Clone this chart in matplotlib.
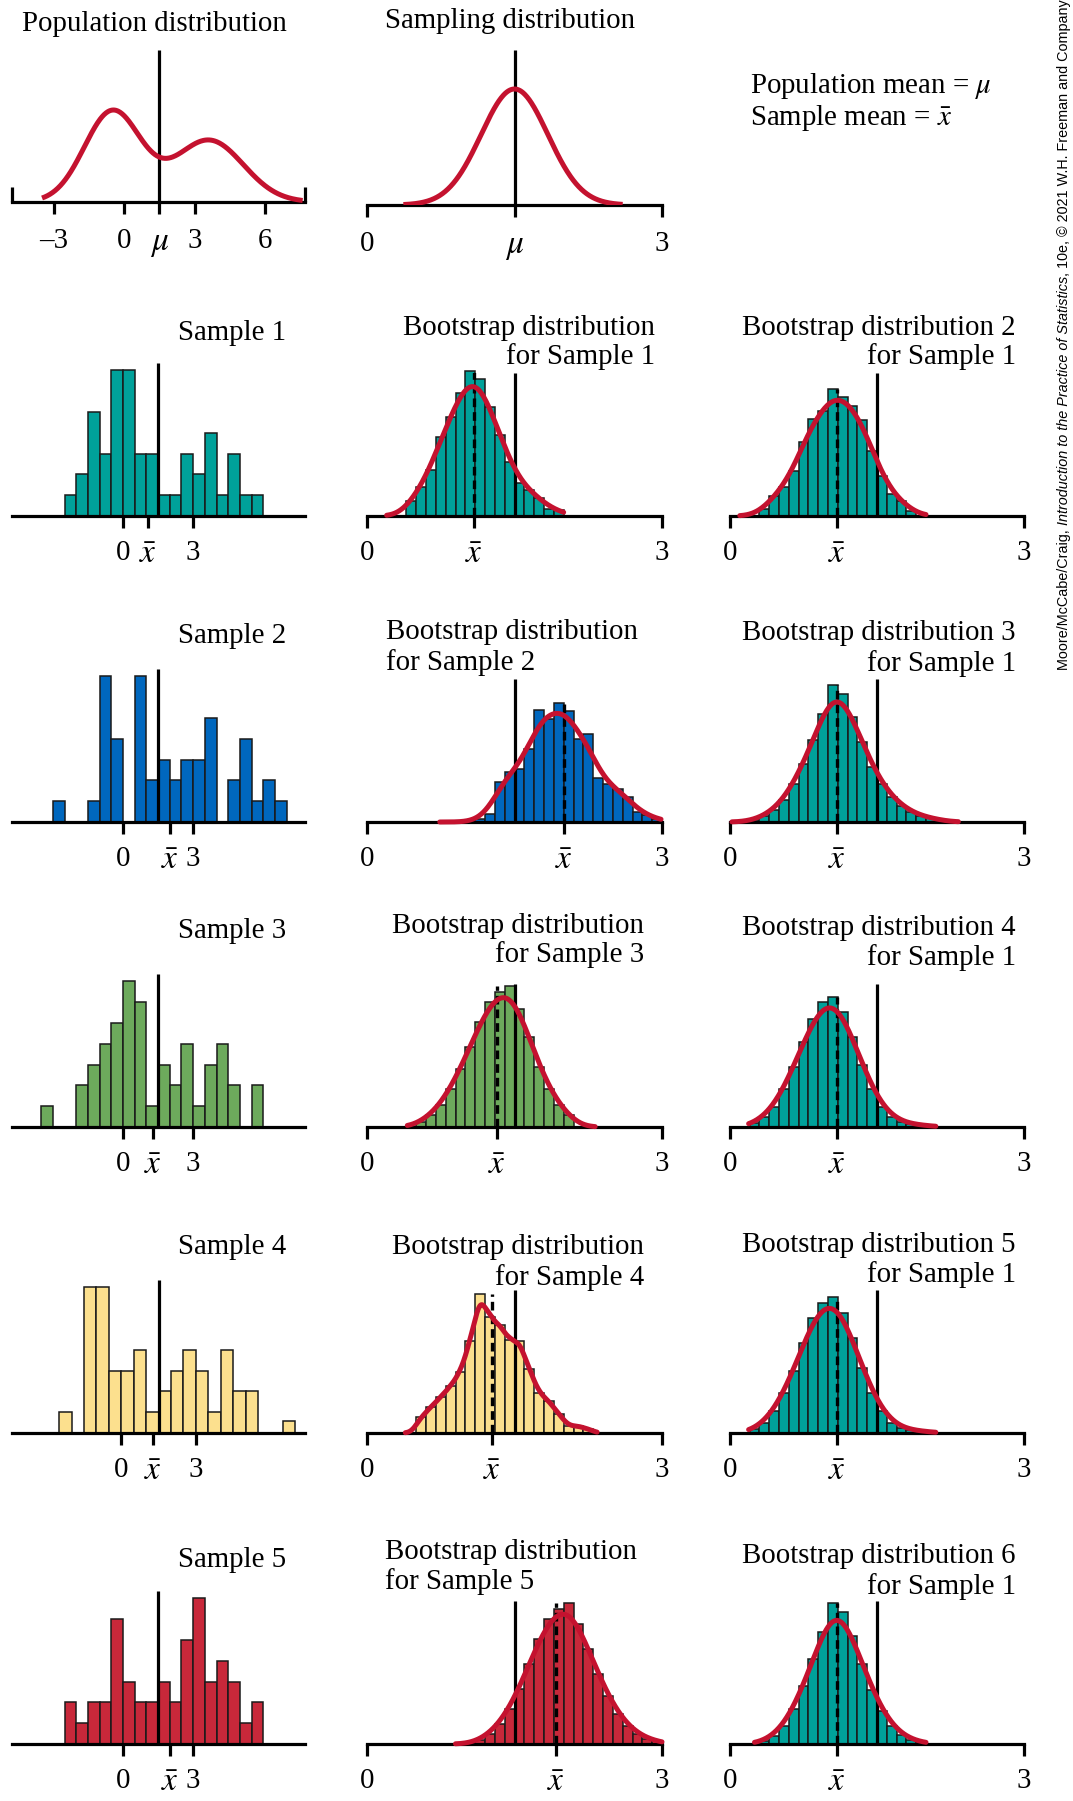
import numpy as np
import matplotlib.pyplot as plt

W, H, DPI = 1073, 1801, 100

# ---------------- data ----------------
mu = 1.5

# population density: two-component normal mixture
pop_means = [-0.5, 3.6]
pop_sds = [1.2, 1.47]
pop_weights = [0.545, 0.455]
pop_range = (-3.5, 7.6)
pop_xlim = (-4.78, 7.7)
pop_ticks = [-3, 0, 3, 6]

# sampling distribution of the mean
samp_sd = 0.34
samp_range = (0.37, 2.6)

# the five samples (bin width 0.5)
sample_bin = 0.5
sample_start = [-2.5, -3.0, -3.5, -2.5, -2.5]
sample_counts = [
    [1, 2, 5, 3, 7, 7, 3, 3, 1, 1, 3, 2, 4, 1, 3, 1, 1],
    [1, 0, 0, 1, 7, 4, 0, 7, 2, 3, 2, 3, 3, 5, 0, 2, 4, 1, 2, 1],
    [1, 0, 0, 2, 3, 4, 5, 7, 6, 1, 3, 2, 4, 1, 3, 4, 2, 0, 2],
    [1, 0, 7, 7, 3, 3, 4, 1, 2, 3, 4, 3, 1, 4, 2, 2, 0, 0, 0.6],
    [2, 1, 2, 2, 6, 3, 2, 2, 3, 2, 5, 7, 3, 4, 3, 1, 2],
]
sample_xbar = [1.07, 2.0, 1.29, 1.28, 2.0]
sample_xlim = [(-4.76, 7.79), (-4.76, 7.79), (-4.76, 7.79), (-4.40, 7.39), (-4.76, 7.79)]
sample_colors = ["#00A19A", "#0067BE", "#6DAA5C", "#FCE08E", "#C8283A"]

# bootstrap distributions (bin width 0.1)
boot_bin = 0.1
boot_mid_start = [0.4, 1.1, 0.5, 0.5, 1.1]
boot_mid_counts = [
    [15, 29, 46, 79, 99, 123, 145, 137, 109, 81, 54, 33, 26, 18, 7, 6],
    [3, 8, 40, 50, 53, 73, 112, 103, 119, 111, 83, 88, 44, 38, 33, 25, 10, 7, 3],
    [5, 12, 22, 38, 58, 80, 105, 125, 135, 141, 118, 90, 60, 38, 22, 12],
    [16, 26, 36, 47, 61, 92, 139, 116, 108, 93, 92, 64, 40, 32, 19, 7, 7, 4],
    [4, 10, 20, 35, 55, 80, 105, 125, 135, 141, 120, 95, 70, 48, 30, 18, 10, 5, 3],
]
boot_mid_xbar = [1.09, 2.0, 1.32, 1.27, 1.92]
boot_mid_curve = [(0.2, 2.0), (0.74, 2.99), (0.41, 2.32), (0.39, 2.34), (0.9, 3.0)]
boot_mid_bw = [0.12, 0.12, 0.12, 0.06, 0.12]

boot_right_start = [0.3, 0.2, 0.2, 0.2, 0.3]
boot_right_counts = [
    [7, 20, 29, 45, 74, 97, 105, 127, 119, 110, 96, 65, 40, 22, 15, 5],
    [2, 6, 12, 22, 38, 58, 82, 108, 137, 128, 105, 80, 55, 38, 25, 16, 10, 6, 4, 2],
    [4, 10, 20, 38, 60, 85, 108, 125, 130, 115, 90, 62, 38, 20, 10, 5, 3, 2, 1],
    [4, 10, 22, 40, 62, 90, 115, 130, 136, 120, 95, 65, 40, 22, 10, 5, 3, 2, 1],
    [3, 8, 18, 35, 58, 85, 112, 141, 132, 108, 80, 54, 33, 18, 9, 4, 2],
]
boot_right_xbar = [1.09, 1.09, 1.09, 1.09, 1.09]
boot_right_curve = [(0.1, 2.0), (0.02, 2.33), (0.19, 2.1), (0.19, 2.1), (0.25, 2.0)]
boot_right_bw = [0.12, 0.12, 0.12, 0.12, 0.12]
boot_right_color = "#00A19A"

curve_red = "#C4122F"
edge = "#1a1a1a"

# ---------------- layout (pixels) ----------------
col_x = [(12, 305), (367, 662), (730, 1024)]
row_base = [516, 822, 1127, 1433, 1744]
left_h, boot_h = 153, 143

plt.rcParams['font.family'] = ['Liberation Serif', 'DejaVu Serif']
plt.rcParams['mathtext.fontset'] = 'stix'
FS = 20.8

fig = plt.figure(figsize=(W / DPI, H / DPI), dpi=DPI)


def make_ax(col, base, h):
    x0, x1 = col_x[col]
    return fig.add_axes([x0 / W, 1 - base / H, (x1 - x0) / W, h / H])


def style(ax, xlim, ymax, pad=8.5):
    ax.set_xlim(xlim)
    ax.set_ylim(0, ymax)
    for s in ["top", "right", "left"]:
        ax.spines[s].set_visible(False)
    ax.spines["bottom"].set_linewidth(2.3)
    ax.spines["bottom"].set_zorder(3)
    ax.set_yticks([])
    ax.tick_params(axis="x", direction="out", length=8.5, width=2.3, pad=pad, labelsize=FS)
    ax.patch.set_alpha(0)


def set_labels(ax, ticks, labels):
    ax.set_xticks(ticks)
    ax.set_xticklabels(labels)
    # symbols ($\mu$, $\bar{x}$) a little larger than the digits
    for t in ax.get_xticklabels():
        if t.get_text().startswith("$"):
            t.set_fontsize(FS * 1.15)


def ftext(x, y, s, ha="left"):
    fig.text(x / W, 1 - y / H, s, ha=ha, va="center", fontsize=FS)


def smooth(start, counts, binw, bw, lo, hi):
    counts = np.asarray(counts, float)
    centers = start + binw * (np.arange(len(counts)) + 0.5)
    x = np.linspace(lo, hi, 400)
    k = np.exp(-0.5 * ((x[:, None] - centers[None, :]) / bw) ** 2) / (bw * np.sqrt(2 * np.pi))
    return x, (k * counts[None, :]).sum(axis=1) * binw


def hist(ax, start, counts, binw, color):
    edges = start + binw * np.arange(len(counts))
    ax.bar(edges, counts, width=binw, align="edge", color=color, edgecolor=edge,
           linewidth=1.1, zorder=2, clip_on=False)


def mu_line(ax):
    ax.axvline(mu, 0, 1, color="k", lw=2.3, zorder=3, solid_capstyle="butt", clip_on=False)


# ---- row 0: population ----
ax = make_ax(0, 202, 152)
xs = np.linspace(*pop_range, 400)
dens = sum(w * np.exp(-0.5 * ((xs - m) / s) ** 2) / (s * np.sqrt(2 * np.pi))
           for m, s, w in zip(pop_means, pop_sds, pop_weights))
style(ax, pop_xlim, dens.max() * 152 / 92, pad=10.5)
ax.plot(xs, dens, color=curve_red, lw=3.6, zorder=4, solid_capstyle="butt", clip_on=False)
mu_line(ax)
set_labels(ax, pop_ticks[:2] + [mu] + pop_ticks[2:], ["\u20133", "0", r"$\mu$", "3", "6"])
ax.set_xticks(list(pop_xlim), minor=True)
ax.tick_params(axis="x", which="minor", direction="in", length=10.5, width=2.3)
ftext(22, 24, "Population distribution")

# ---- row 0: sampling distribution ----
ax = make_ax(1, 205, 155)
xs = np.linspace(*samp_range, 400)
dens = np.exp(-0.5 * ((xs - mu) / samp_sd) ** 2) / (samp_sd * np.sqrt(2 * np.pi))
style(ax, (0, 3), dens.max() * 155 / 116, pad=10.5)
ax.plot(xs, dens, color=curve_red, lw=3.6, zorder=4, solid_capstyle="butt")
mu_line(ax)
set_labels(ax, [0, mu, 3], ["0", r"$\mu$", "3"])
ftext(385, 21, "Sampling distribution")

ftext(750, 86, r"Population mean = $\mu$")
ftext(750, 118, r"Sample mean = $\bar{x}$")

# ---- rows 1-5 ----
samp_title_y = [333, 636, 931, 1247, 1560]
mid_title_y = [(328, 357), (632, 663), (926, 955), (1247, 1278), (1552, 1582)]
mid_title_x = [(655, "right"), (386, "left"), (644, "right"), (644, "right"), (385, "left")]
right_title_y = [(328, 357), (633, 664), (928, 958), (1245, 1275), (1556, 1587)]

for i in range(5):
    base = row_base[i]
    # sample histogram
    ax = make_ax(0, base, left_h)
    style(ax, sample_xlim[i], 7.35)
    hist(ax, sample_start[i], sample_counts[i], sample_bin, sample_colors[i])
    mu_line(ax)
    set_labels(ax, [0, sample_xbar[i], 3], ["0", r"$\bar{x}$", "3"])
    ftext(286, samp_title_y[i], "Sample %d" % (i + 1), ha="right")

    # bootstrap of sample i
    for col, starts, counts, xbars, curves, bws, color in [
        (1, boot_mid_start, boot_mid_counts, boot_mid_xbar, boot_mid_curve, boot_mid_bw,
         sample_colors[i]),
        (2, boot_right_start, boot_right_counts, boot_right_xbar, boot_right_curve, boot_right_bw,
         boot_right_color),
    ]:
        ax = make_ax(col, base, boot_h)
        style(ax, (0, 3), 143)
        hist(ax, starts[i], counts[i], boot_bin, color)
        mu_line(ax)
        ax.vlines(xbars[i], 0, max(counts[i]), color="k", lw=2.4, zorder=3,
                  linestyles=(0, (2.6, 1.5)))
        cx, cy = smooth(starts[i], counts[i], boot_bin, bws[i], *curves[i])
        ax.plot(cx, cy, color=curve_red, lw=3.6, zorder=4, solid_capstyle="round", clip_on=False)
        set_labels(ax, [0, xbars[i], 3], ["0", r"$\bar{x}$", "3"])

    xm, ham = mid_title_x[i]
    ftext(xm, mid_title_y[i][0], "Bootstrap distribution", ha=ham)
    ftext(xm, mid_title_y[i][1], "for Sample %d" % (i + 1), ha=ham)
    ftext(1016, right_title_y[i][0], "Bootstrap distribution %d" % (i + 2), ha="right")
    ftext(1016, right_title_y[i][1], "for Sample 1", ha="right")

# ---- credit line, rotated, bottom to top ----
pieces = [("Moore/McCabe/Craig, ", "normal"),
          ("Introduction to the Practice of Statistics", "italic"),
          (", 10e, \u00a9 2021 W.H. Freeman and Company", "normal")]
fam = ["Liberation Sans Narrow", "Liberation Sans", "DejaVu Sans"]
renderer = fig.canvas.get_renderer()


def place_credit(fs):
    texts, y = [], 670
    for s, st in pieces:
        t = fig.text(1068 / W, 1 - y / H, s, rotation=90, rotation_mode="anchor",
                     ha="left", va="baseline", fontsize=fs, style=st, family=fam)
        y -= t.get_window_extent(renderer).height
        texts.append(t)
    return texts, 670 - y


texts, length = place_credit(12)
for t in texts:
    t.remove()
place_credit(12 * 668 / length)

fig.savefig("out.png", dpi=DPI)
